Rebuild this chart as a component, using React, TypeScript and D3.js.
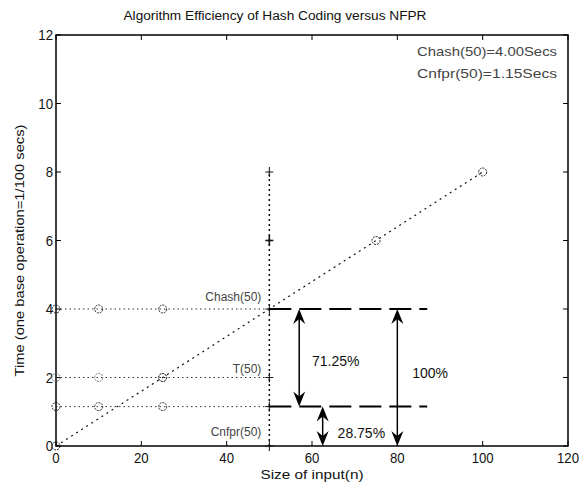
import React from "react";
import * as d3 from "d3";

const W = 582;
const H = 493;

const titleText = "Algorithm Efficiency of Hash Coding versus NFPR";
const xLabelText = "Size of input(n)";
const yLabelText = "Time (one base operation=1/100 secs)";
const xTicks = [0, 20, 40, 60, 80, 100, 120];
const yTicks = [0, 2, 4, 6, 8, 10, 12];

// main growth line T(n)
const lineX = [0, 25, 50, 75, 100];
const lineY = [0, 2, 4, 6, 8];
const lineCircleX = [0, 25, 75, 100];
const lineCircleY = [0, 2, 6, 8];

// horizontal reference levels
const levelNames = ["Chash(50)", "T(50)", "Cnfpr(50)"];
const levelValues = [4, 2, 1.15];
const levelCircleX = [0, 10, 25];
const levelLabelY = [4.35, 2.25, 0.4];

// vertical line at n=50
const vLineX = 50;
const vLineTop = 8;
const vPlusY = [8, 6, 4, 2, 1.15, 0];

// dashed comparison lines
const dashStartX = 50;
const dashEndX = 87;
const dashLevels = [4, 1.15];

// double arrows
const arrowX = [57, 80, 62.5];
const arrowFrom = [4, 4, 1.15];
const arrowTo = [1.15, 0, 0];
const arrowLabels = ["71.25%", "100%", "28.75%"];
const arrowLabelX = [60, 83.5, 66];
const arrowLabelY = [2.48, 2.12, 0.38];

const infoLines = ["Chash(50)=4.00Secs", "Cnfpr(50)=1.15Secs"];

export default function App() {
  const left = 56, right = 568, top = 35, bottom = 446;
  const x = d3.scaleLinear().domain([0, 120]).range([left, right]);
  const y = d3.scaleLinear().domain([0, 12]).range([bottom, top]);
  const font = "'Liberation Sans', Arial, sans-serif";
  const line = d3.line<number>().x((d, i) => x(lineX[i])).y((d, i) => y(lineY[i]));
  const tl = 5;

  const circle = (cx: number, cy: number, key: string, color = "#222") => (
    <circle key={key} cx={cx} cy={cy} r={4} fill="none" stroke={color} strokeWidth={1} strokeDasharray="2,1" />
  );
  const plus = (cx: number, cy: number, key: string, sw = 1) => (
    <g key={key} stroke="#111" strokeWidth={sw}>
      <line x1={cx - 4} x2={cx + 4} y1={cy} y2={cy} />
      <line x1={cx} x2={cx} y1={cy - 5} y2={cy + 5} />
    </g>
  );
  const arrowHead = (ax: number, ay: number, dir: number, key: string) => (
    <path key={key} d={`M${ax},${ay} L${ax - 6},${ay - dir * 15} L${ax},${ay - dir * 10} L${ax + 6},${ay - dir * 15} Z`} fill="#000" />
  );

  return (
    <svg width={W} height={H} style={{ position: "absolute", left: 0, top: 0, background: "#fff" }} fontFamily={font}>
      <rect width={W} height={H} fill="#fff" />
      <text x={275} y={20} textAnchor="middle" fontSize={12} textLength={303} lengthAdjust="spacingAndGlyphs" fill="#111">{titleText}</text>

      {/* axes box */}
      <rect x={left} y={top} width={right - left} height={bottom - top} fill="none" stroke="#000" strokeWidth={1.5} />
      {xTicks.map((t) => (
        <g key={"xt" + t} stroke="#000">
          <line x1={x(t)} x2={x(t)} y1={bottom} y2={bottom - tl} />
          <line x1={x(t)} x2={x(t)} y1={top} y2={top + tl} />
        </g>
      ))}
      {yTicks.map((t) => (
        <g key={"yt" + t} stroke="#000">
          <line x1={left} x2={left + tl} y1={y(t)} y2={y(t)} />
          <line x1={right} x2={right - tl} y1={y(t)} y2={y(t)} />
        </g>
      ))}
      {xTicks.map((t) => (
        <text key={"xl" + t} x={x(t)} y={bottom + 17} textAnchor="middle" fontSize={15.5} fill="#111" transform={`translate(${x(t)},0) scale(0.85,1) translate(${-x(t)},0)`}>{t}</text>
      ))}
      {yTicks.map((t) => (
        <text key={"yl" + t} x={left - 3} y={y(t) + 5.5} textAnchor="end" fontSize={15.5} fill="#111" transform={`translate(${left - 3},0) scale(0.85,1) translate(${-(left - 3)},0)`}>{t}</text>
      ))}
      <text x={(left + right) / 2} y={479} textAnchor="middle" fontSize={13} fill="#111" textLength={103} lengthAdjust="spacingAndGlyphs">{xLabelText}</text>
      <text transform={`translate(24,${(top + bottom) / 2 + 10}) rotate(-90)`} textAnchor="middle" fontSize={13} fill="#111" textLength={252} lengthAdjust="spacingAndGlyphs">{yLabelText}</text>

      {/* info text */}
      {infoLines.map((s, i) => (
        <text key={"info" + i} x={557} y={56 + i * 22} textAnchor="end" fontSize={13} fill="#444" textLength={140} lengthAdjust="spacingAndGlyphs">{s}</text>
      ))}

      {/* horizontal dotted levels */}
      {levelValues.map((v, i) => (
        <g key={"lev" + i}>
          <line x1={x(0)} x2={x(vLineX)} y1={y(v)} y2={y(v)} stroke="#333" strokeWidth={1} strokeDasharray="1.5,3" />
          {levelCircleX.map((cx, j) => circle(x(cx), y(v), `lc${i}-${j}`, i === 1 ? "#777" : "#222"))}
          <text x={x(vLineX) - 8} y={y(levelLabelY[i]) + 4} textAnchor="end" fontSize={12} fill="#444">{levelNames[i]}</text>
        </g>
      ))}

      {/* main line */}
      <path d={line(lineX) || ""} fill="none" stroke="#111" strokeWidth={1.2} strokeDasharray="2,4" />
      {lineCircleX.map((cx, i) => circle(x(cx), y(lineCircleY[i]), "mc" + i))}

      {/* vertical line */}
      <line x1={x(vLineX)} x2={x(vLineX)} y1={y(0)} y2={y(vLineTop)} stroke="#111" strokeWidth={1.5} strokeDasharray="2,3" />
      {vPlusY.map((v, i) => plus(x(vLineX), y(v), "vp" + i, v === 6 ? 1.6 : 1))}

      {/* dashed comparison lines */}
      {dashLevels.map((v, i) => (
        <line key={"dl" + i} x1={x(dashStartX)} x2={x(dashEndX)} y1={y(v)} y2={y(v)} stroke="#000" strokeWidth={2} strokeDasharray="22,8" />
      ))}

      {/* arrows */}
      {arrowX.map((ax, i) => (
        <g key={"ar" + i}>
          <line x1={x(ax)} x2={x(ax)} y1={y(arrowFrom[i]) + 8} y2={y(arrowTo[i]) - 8} stroke="#000" strokeWidth={1.5} />
          {arrowHead(x(ax), y(arrowFrom[i]), -1, "ah" + i)}
          {arrowHead(x(ax), y(arrowTo[i]), 1, "at" + i)}
          <text x={x(arrowLabelX[i])} y={y(arrowLabelY[i]) + 5} fontSize={14} fill="#111">{arrowLabels[i]}</text>
        </g>
      ))}
    </svg>
  );
}
